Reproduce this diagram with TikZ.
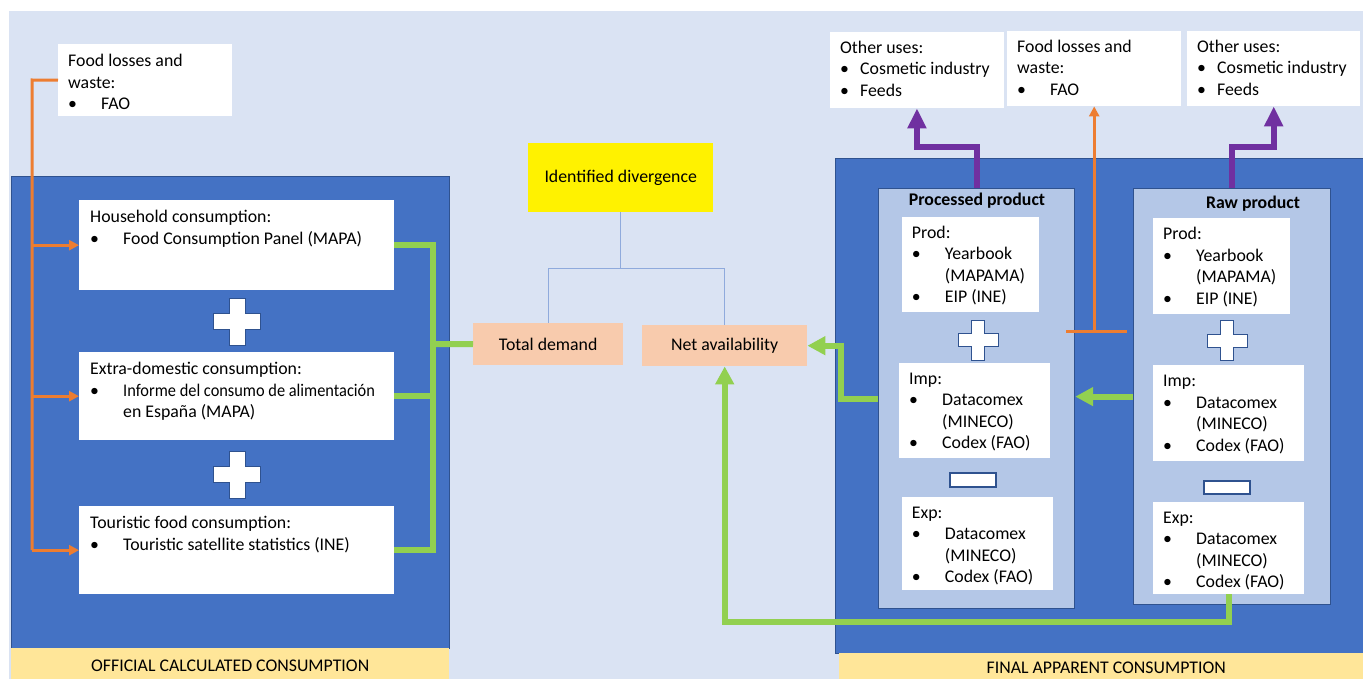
\documentclass[tikz,border=0pt]{standalone}
\usepackage{fontspec}
\setmainfont{Carlito}
\usetikzlibrary{positioning,arrows.meta}

\definecolor{bgblue}{HTML}{DAE3F3}
\definecolor{darkblue}{HTML}{4472C4}
\definecolor{edgeblue}{HTML}{2F528F}
\definecolor{paleblue}{HTML}{B4C7E7}
\definecolor{baryellow}{HTML}{FFE699}
\definecolor{lineorange}{HTML}{ED7D31}
\definecolor{linegreen}{HTML}{92D050}
\definecolor{linepurple}{HTML}{7030A0}
\definecolor{peach}{HTML}{F8CBAD}
\definecolor{linkblue}{HTML}{8FAADC}

\newcommand{\bl}[1][33pt]{\makebox[#1][l]{\textbullet}}
\newcommand{\ind}{\hspace*{33pt}}
\newcommand{\tp}{\rule{0pt}{16pt}}
% plus sign: centre x, centre y, half size, half arm
\newcommand{\plusmark}[4]{\filldraw[fill=white,draw=edgeblue,line width=1pt]
  (#1-#4,#2-#3) -- (#1+#4,#2-#3) -- (#1+#4,#2-#4) -- (#1+#3,#2-#4) -- (#1+#3,#2+#4) -- (#1+#4,#2+#4)
  -- (#1+#4,#2+#3) -- (#1-#4,#2+#3) -- (#1-#4,#2+#4) -- (#1-#3,#2+#4) -- (#1-#3,#2-#4) -- (#1-#4,#2-#4) -- cycle;}

\begin{document}
\begin{tikzpicture}[x=1pt,y=-1pt,
  font=\fontsize{17.8}{21.5}\selectfont,
  wbox/.style={fill=white,inner sep=0pt,anchor=north west},
  panel/.style={fill=paleblue,draw=edgeblue,line width=1.2pt,inner sep=0pt,anchor=north west},
  bar/.style={fill=baryellow,inner sep=0pt,anchor=north west},
  txt/.style={inner sep=0pt,align=left},
  oline/.style={lineorange,line width=3pt},
  gline/.style={linegreen,line width=6pt},
  pline/.style={linepurple,line width=6pt},
  link/.style={linkblue,line width=1.3pt},
  otip/.style={-{Triangle[length=10pt,width=10pt]}},
  gtip/.style={-{Triangle[length=18pt,width=18pt]}},
  ptip/.style={-{Triangle[length=20pt,width=18pt]}}]
    \useasboundingbox (0,0) rectangle (1363,679);
    \fill[white] (0,0) rectangle (1363,679);
    \fill[bgblue] (9,11) rectangle (1363,679);

    % official side
    \filldraw[fill=darkblue,draw=edgeblue,line width=1pt] (11,177) rectangle (449,648);
    \node[bar,minimum width=438pt,minimum height=36pt] (offbar) at (11,648) {OFFICIAL CALCULATED CONSUMPTION};
    \node[wbox,minimum width=174pt,minimum height=72pt] (fao) at (58,44) {};
    \node[txt,below right=6.5pt and 10pt of fao.north west] (faotext) {\tp Food losses and\\waste:\\\bl FAO};
    \node[wbox,minimum width=315pt,minimum height=90pt] (hh) at (79,200) {};
    \node[txt,below right=6.5pt and 11pt of hh.north west] (hhtext) {\tp Household consumption:\\\bl Food Consumption Panel (MAPA)};
    \node[wbox,minimum width=315pt,minimum height=88pt] (ext) at (79,352) {};
    \node[txt,below right=6.5pt and 11pt of ext.north west] (exttext) {\tp Extra-domestic consumption:\\\bl \scalebox{0.92}[1]{Informe del consumo de alimentación}\\\ind en España (MAPA)};
    \node[wbox,minimum width=315pt,minimum height=88pt] (tour) at (79,506) {};
    \node[txt,below right=6.5pt and 11pt of tour.north west] (tourtext) {\tp Touristic food consumption:\\\bl Touristic satellite statistics (INE)};
    \plusmark{237}{321.5}{23.5}{8}
    \plusmark{237}{474.5}{23.5}{8}

    % middle
    \node[wbox,fill=yellow,minimum width=185pt,minimum height=69pt] (id) at (528,143) {Identified divergence};
    \node[wbox,fill=peach,minimum width=150pt,minimum height=42pt] (td) at (473,323) {Total demand};
    \node[wbox,fill=peach,minimum width=165pt,minimum height=41pt] (na) at (642,325) {Net availability};

    % apparent side
    \filldraw[fill=darkblue,draw=edgeblue,line width=1pt] (835,159) rectangle (1375,653);
    \node[bar,minimum width=534pt,minimum height=30pt] (appbar) at (839,653) {FINAL APPARENT CONSUMPTION};
    \node[wbox,minimum width=173.5pt,minimum height=76pt] (usesL) at (830,32) {};
    \node[txt,below right=5pt and 10pt of usesL.north west] (usesLtext) {\tp Other uses:\\\bl[20pt]Cosmetic industry\\\bl[20pt]Feeds};
    \node[wbox,minimum width=174pt,minimum height=75pt] (foodR) at (1007,31) {};
    \node[txt,below right=5pt and 10pt of foodR.north west] (foodRtext) {\tp Food losses and\\waste:\\\bl FAO};
    \node[wbox,minimum width=173pt,minimum height=75pt] (usesR) at (1187,31) {};
    \node[txt,below right=5pt and 10pt of usesR.north west] (usesRtext) {\tp Other uses:\\\bl[20pt]Cosmetic industry\\\bl[20pt]Feeds};

    \node[panel,minimum width=196pt,minimum height=420pt] (proc) at (878,188) {};
    \node[anchor=base,inner sep=0pt] (proctitle) at (977,206) {\bfseries Processed product};
    \node[wbox,minimum width=137pt,minimum height=95pt] (prodP) at (901.7,217) {};
    \node[txt,below right=5pt and 10pt of prodP.north west] (prodPtext) {\tp Prod:\\\bl Yearbook\\\ind (MAPAMA)\\\bl EIP (INE)};
    \node[wbox,minimum width=150.6pt,minimum height=95pt] (impP) at (899,363) {};
    \node[txt,below right=5pt and 10pt of impP.north west] (impPtext) {\tp Imp:\\\bl Datacomex\\\ind (MINECO)\\\bl Codex (FAO)};
    \node[wbox,minimum width=151pt,minimum height=93pt] (expP) at (901.7,497) {};
    \node[txt,below right=5pt and 10pt of expP.north west] (expPtext) {\tp Exp:\\\bl Datacomex\\\ind (MINECO)\\\bl Codex (FAO)};
    \plusmark{978}{340}{20}{6.5}
    \draw[fill=white,draw=edgeblue,line width=1.2pt] (950,473) rectangle (996,487);

    \node[panel,minimum width=197pt,minimum height=416pt] (raw) at (1133,188) {};
    \node[anchor=base,inner sep=0pt] (rawtitle) at (1253,209) {\bfseries Raw product};
    \node[wbox,minimum width=136.5pt,minimum height=96pt] (prodR) at (1153,218) {};
    \node[txt,below right=5.5pt and 10pt of prodR.north west] (prodRtext) {\tp Prod:\\\bl Yearbook\\\ind (MAPAMA)\\\bl EIP (INE)};
    \node[wbox,minimum width=151pt,minimum height=96pt] (impR) at (1153,365) {};
    \node[txt,below right=5.5pt and 10pt of impR.north west] (impRtext) {\tp Imp:\\\bl Datacomex\\\ind (MINECO)\\\bl Codex (FAO)};
    \node[wbox,minimum width=151pt,minimum height=92pt] (expR) at (1153,502) {};
    \node[txt,below right=5pt and 10pt of expR.north west] (expRtext) {\tp Exp:\\\bl Datacomex\\\ind (MINECO)\\\bl Codex (FAO)};
    \plusmark{1227}{340.5}{20}{6.5}
    \draw[fill=white,draw=edgeblue,line width=1.2pt] (1204,481) rectangle (1250,494);

    % orange links
    \coordinate (ospine) at (32,80);
    \draw[oline] (fao.west) -- (ospine) -- (ospine |- tour.west);
    \foreach \b in {hh,ext,tour}
        \draw[oline,otip] (ospine |- \b.west) -- (\b.west);
    \coordinate (obl) at (1066,331);
    \coordinate (obr) at (1127,331);
    \draw[oline] (obl) -- (obr);
    \draw[oline,otip] (obl -| foodR.south) -- (foodR.south);

    % green links
    \coordinate (gjoin) at (433,344);
    \draw[gline] (hh.east) -| (gjoin);
    \draw[gline] (tour.east) -| (gjoin);
    \draw[gline] (ext.east) -- (ext.east -| gjoin);
    \draw[gline] (gjoin) -- (td.west);
    \draw[gline,gtip] (proc.west) -- ++(-37,0) |- (na.east);
    \draw[gline,gtip] (raw.west) -- (raw.west -| proc.east);
    \draw[gline,gtip] (expR.south) -- ++(0,28) -| (na.south);

    % purple links
    \draw[pline,ptip] (proc.north) -- ++(0,-41) -| (usesL.south);
    \draw[pline,ptip] (raw.north) -- ++(0,-41) -| (usesR.south);

    % divergence
    \draw[link] (id.south) -- ++(0,56) coordinate (idm) -| (td.north);
    \draw[link] (idm) -| (na.north);
\end{tikzpicture}
\end{document}
